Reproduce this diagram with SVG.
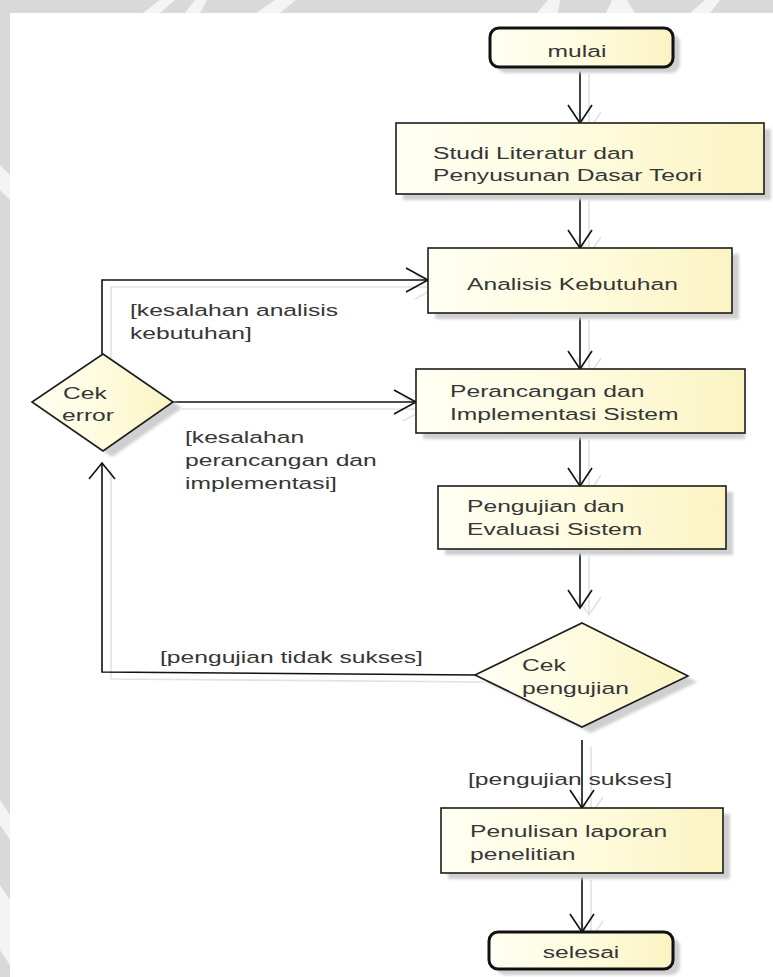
<svg xmlns="http://www.w3.org/2000/svg" width="773" height="977" viewBox="0 0 773 977">
<style>
.box{stroke:#1c1c1c;stroke-width:1.6;fill:url(#fill)}
.term{stroke:#111;stroke-width:3;fill:url(#fill)}
.shd{fill:#cfcfcf;filter:url(#blur)}
.ln{fill:none;stroke:#111;stroke-width:1.6}
.lns{fill:none;stroke:#e2e2e2;stroke-width:1.6}
.t{font-family:"Liberation Sans",Arial,sans-serif;font-size:17px;fill:#363636}
.tm{font-family:"Liberation Sans",Arial,sans-serif;font-size:17px;fill:#363636;text-anchor:middle}
.wm{fill:#d9d9d9}
.wl{fill:#f4f4f4}
</style>
<defs>
<linearGradient id="fill" x1="0" y1="0" x2="1" y2="0">
<stop offset="0" stop-color="#fffff3"/>
<stop offset="0.55" stop-color="#fefbdc"/>
<stop offset="1" stop-color="#fbf3c2"/>
</linearGradient>
<filter id="blur" x="-10%" y="-10%" width="130%" height="140%"><feGaussianBlur stdDeviation="1.5"/></filter>
<marker id="aV" markerUnits="userSpaceOnUse" orient="auto" markerWidth="1" markerHeight="1" style="overflow:visible"><path d="M-18,-12 L0,0 L-18,12" fill="none" stroke="#111" stroke-width="1.6"/></marker>
<marker id="aU" markerUnits="userSpaceOnUse" orient="auto" markerWidth="1" markerHeight="1" style="overflow:visible"><path d="M-16,-13 L0,0 L-16,13" fill="none" stroke="#111" stroke-width="1.6"/></marker>
<marker id="aH" markerUnits="userSpaceOnUse" orient="auto" markerWidth="1" markerHeight="1" style="overflow:visible"><path d="M-22,-12 L0,0 L-22,12" fill="none" stroke="#111" stroke-width="1.6"/></marker>
<marker id="sV" markerUnits="userSpaceOnUse" orient="auto" markerWidth="1" markerHeight="1" style="overflow:visible"><path d="M-18,-12 L0,0 L-18,12" fill="none" stroke="#e2e2e2" stroke-width="1.6"/></marker>
<marker id="sH" markerUnits="userSpaceOnUse" orient="auto" markerWidth="1" markerHeight="1" style="overflow:visible"><path d="M-22,-12 L0,0 L-22,12" fill="none" stroke="#e2e2e2" stroke-width="1.6"/></marker>
</defs>

<g id="background">
<rect x="0" y="0" width="773" height="977" fill="#ffffff"/>
<rect class="wm" x="0" y="0" width="773" height="13"/>
<rect class="wm" x="0" y="0" width="10" height="977"/>
<polygon class="wl" points="143,13 160,0 175,0 160,13"/>
<polygon class="wl" points="185,13 195,0 207,0 200,13"/>
<polygon class="wl" points="256,13 275,0 296,0 280,13"/>
<polygon class="wl" points="537,13 548,0 560,0 558,13"/>
<polygon class="wl" points="606,13 612,0 627,0 635,13"/>
<polygon class="wl" points="690,13 705,0 720,0 710,13"/>
<polygon class="wl" points="0,800 10,815 10,840 0,825"/>
<polygon class="wl" points="0,885 10,900 10,965 0,950"/>
<polygon class="wl" points="0,165 10,175 10,200 0,190"/>
</g>

<g id="connectors">
<g id="connector-shadows" transform="translate(9,7)">
<path class="lns" d="M580,67 V123" marker-end="url(#sV)"/>
<path class="lns" d="M580,194 V248" marker-end="url(#sV)"/>
<path class="lns" d="M580,313 V369" marker-end="url(#sV)"/>
<path class="lns" d="M580,433 V486" marker-end="url(#sV)"/>
<path class="lns" d="M580,549 V608" marker-end="url(#sV)"/>
<path class="lns" d="M582,740 V808" marker-end="url(#sV)"/>
<path class="lns" d="M582,873 V932" marker-end="url(#sV)"/>
<path class="lns" d="M475,675 L102,672 V463"/>
<path class="lns" d="M102,354 V280 H428" marker-end="url(#sH)"/>
<path class="lns" d="M173,402 H416" marker-end="url(#sH)"/>
</g>
<path id="e1" class="ln" d="M580,67 V123" marker-end="url(#aV)"/>
<path id="e2" class="ln" d="M580,194 V248" marker-end="url(#aV)"/>
<path id="e3" class="ln" d="M580,313 V369" marker-end="url(#aV)"/>
<path id="e4" class="ln" d="M580,433 V486" marker-end="url(#aV)"/>
<path id="e5" class="ln" d="M580,549 V608" marker-end="url(#aV)"/>
<path id="e6" class="ln" d="M582,740 V808" marker-end="url(#aV)"/>
<path id="e7" class="ln" d="M582,873 V932" marker-end="url(#aV)"/>
<path id="e8" class="ln" d="M475,675 L102,672 V463" marker-end="url(#aU)"/>
<path id="e9" class="ln" d="M102,354 V280 H428" marker-end="url(#aH)"/>
<path id="e10" class="ln" d="M173,402 H416" marker-end="url(#aH)"/>
<text class="t" transform="translate(130,316) scale(1.45,1)">[kesalahan analisis</text>
<text class="t" transform="translate(130,339) scale(1.45,1)">kebutuhan]</text>
<text class="t" transform="translate(185,443) scale(1.45,1)">[kesalahan</text>
<text class="t" transform="translate(185,466) scale(1.45,1)">perancangan dan</text>
<text class="t" transform="translate(185,489) scale(1.45,1)">implementasi]</text>
<text class="t" transform="translate(160,663) scale(1.45,1)">[pengujian tidak sukses]</text>
<text class="t" transform="translate(468,785) scale(1.45,1)">[pengujian sukses]</text>
</g>

<g id="mulai">
<rect class="shd" x="497" y="34" width="183" height="39" rx="9"/>
<rect class="term" x="490" y="28" width="183" height="39" rx="9"/>
<text class="tm" transform="translate(577,57) scale(1.45,1)">mulai</text>
</g>

<g id="studi">
<rect class="shd" x="403" y="129" width="368" height="71"/>
<rect class="box" x="396" y="123" width="368" height="71"/>
<text class="t" transform="translate(433,159) scale(1.45,1)">Studi Literatur dan</text>
<text class="t" transform="translate(433,181) scale(1.45,1)">Penyusunan Dasar Teori</text>
</g>

<g id="analisis">
<rect class="shd" x="435" y="254" width="304" height="65"/>
<rect class="box" x="428" y="248" width="304" height="65"/>
<text class="t" transform="translate(467,290) scale(1.45,1)">Analisis Kebutuhan</text>
</g>

<g id="perancangan">
<rect class="shd" x="423" y="375" width="322" height="64"/>
<rect class="box" x="416" y="369" width="329" height="64"/>
<text class="t" transform="translate(450,397) scale(1.45,1)">Perancangan dan</text>
<text class="t" transform="translate(450,420) scale(1.45,1)">Implementasi Sistem</text>
</g>

<g id="pengujian">
<rect class="shd" x="445" y="492" width="288" height="63"/>
<rect class="box" x="438" y="486" width="288" height="63"/>
<text class="t" transform="translate(467,512) scale(1.45,1)">Pengujian dan</text>
<text class="t" transform="translate(467,535) scale(1.45,1)">Evaluasi Sistem</text>
</g>

<g id="cek-pengujian">
<polygon class="shd" points="591,629 697,682 591,733 484,681"/>
<polygon class="box" points="582,623 688,676 582,727 475,675"/>
<text class="t" transform="translate(522,671) scale(1.45,1)">Cek</text>
<text class="t" transform="translate(522,694) scale(1.45,1)">pengujian</text>
</g>

<g id="cek-error">
<polygon class="shd" points="112,360 182,408 112,457 41,408"/>
<polygon class="box" points="103,354 173,402 103,451 32,402"/>
<text class="t" transform="translate(63,399) scale(1.45,1)">Cek</text>
<text class="t" transform="translate(62,421) scale(1.45,1)">error</text>
</g>

<g id="penulisan">
<rect class="shd" x="448" y="814" width="282" height="65"/>
<rect class="box" x="441" y="808" width="282" height="65"/>
<text class="t" transform="translate(470,837) scale(1.45,1)">Penulisan laporan</text>
<text class="t" transform="translate(470,860) scale(1.45,1)">penelitian</text>
</g>

<g id="selesai">
<rect class="shd" x="496" y="938" width="184" height="37" rx="9"/>
<rect class="term" x="489" y="932" width="184" height="37" rx="9"/>
<text class="tm" transform="translate(581,958) scale(1.45,1)">selesai</text>
</g>
</svg>
